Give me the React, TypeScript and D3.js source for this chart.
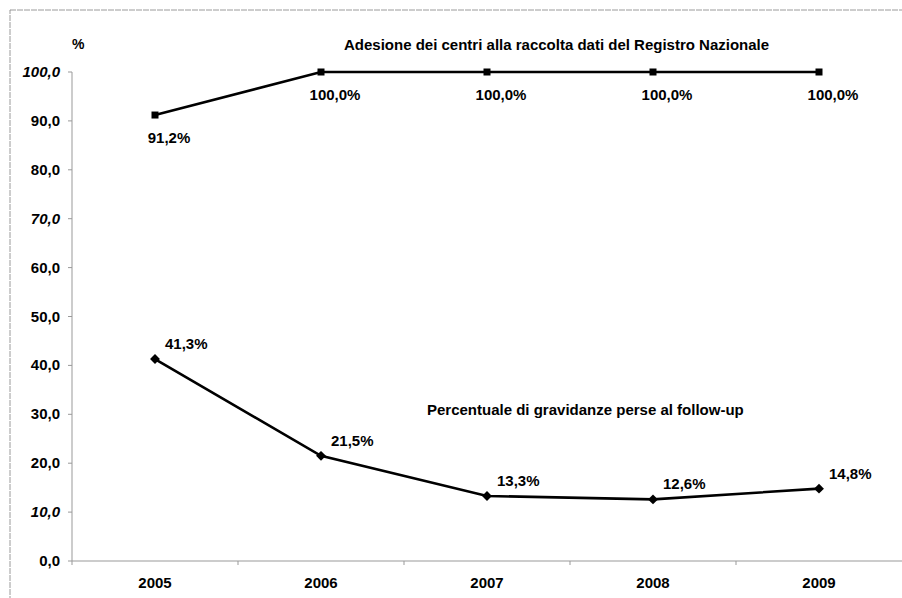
import { scaleBand, scaleLinear, line } from 'd3';

const years = ['2005', '2006', '2007', '2008', '2009'];
const adesione = [91.2, 100, 100, 100, 100];
const gravidanzePerse = [41.3, 21.5, 13.3, 12.6, 14.8];
const yTicks = [0, 10, 20, 30, 40, 50, 60, 70, 80, 90, 100];
const italicTicks = [10, 70, 100];

const W = 902;
const H = 598;
const FONT = '"Liberation Sans", Arial, sans-serif';

const fmt = (v: number) => v.toFixed(1).replace('.', ',');

export default function App() {
  // scales
  const x = scaleBand<string>().domain(years).range([72, 902]).padding(0);
  const y = scaleLinear().domain([0, 100]).range([561, 72]);
  const cx = (d: string) => (x(d) ?? 0) + x.bandwidth() / 2;

  const path = line<number>()
    .x((_, i) => cx(years[i]))
    .y((d) => y(d));

  return (
    <svg
      width={W}
      height={H}
      style={{ position: 'absolute', left: 0, top: 0, background: '#fff' }}
      fontFamily={FONT}
      fontWeight="bold"
    >
      {/* outer frame */}
      <rect x={10} y={10} width={W} height={H} fill="none" stroke="#9a9a9a" strokeWidth={1} strokeDasharray="6 1" />

      {/* y axis */}
      <line x1={72} x2={72} y1={y(100)} y2={y(0)} stroke="#999" strokeWidth={1} />
      {yTicks.map((t) => (
        <g key={t}>
          <line x1={68} x2={72} y1={y(t)} y2={y(t)} stroke="#999" />
          <text
            x={60}
            y={y(t) + 5}
            textAnchor="end"
            fontSize={15}
            fontStyle={italicTicks.includes(t) ? 'italic' : 'normal'}
          >
            {fmt(t)}
          </text>
        </g>
      ))}
      <text x={72} y={49} fontSize={14}>%</text>

      {/* x axis */}
      <line x1={72} x2={W} y1={y(0)} y2={y(0)} stroke="#999" strokeWidth={1} />
      {years.map((d) => (
        <g key={d}>
          <line x1={x(d) ?? 0} x2={x(d) ?? 0} y1={y(0)} y2={y(0) + 4} stroke="#999" />
          <text x={cx(d)} y={588} textAnchor="middle" fontSize={15}>{d}</text>
        </g>
      ))}

      {/* series titles */}
      <text x={344} y={50} fontSize={15}>Adesione dei centri alla raccolta dati del Registro Nazionale</text>
      <text x={427} y={415} fontSize={15}>Percentuale di gravidanze perse al follow-up</text>

      {/* adesione series */}
      <path d={path(adesione) ?? ''} fill="none" stroke="#000" strokeWidth={2.6} />
      {adesione.map((v, i) => (
        <g key={'a' + i}>
          <rect x={cx(years[i]) - 3.5} y={y(v) - 3.5} width={7} height={7} fill="#000" />
          <text x={cx(years[i]) + 14} y={y(v) + 28} textAnchor="middle" fontSize={15}>{fmt(v)}%</text>
        </g>
      ))}

      {/* gravidanze perse series */}
      <path d={path(gravidanzePerse) ?? ''} fill="none" stroke="#000" strokeWidth={2.6} />
      {gravidanzePerse.map((v, i) => (
        <g key={'g' + i}>
          <rect
            x={cx(years[i]) - 3.5}
            y={y(v) - 3.5}
            width={7}
            height={7}
            fill="#000"
            transform={`rotate(45 ${cx(years[i])} ${y(v)})`}
          />
          <text x={cx(years[i]) + 10} y={y(v) - 10} fontSize={15}>{fmt(v)}%</text>
        </g>
      ))}
    </svg>
  );
}
